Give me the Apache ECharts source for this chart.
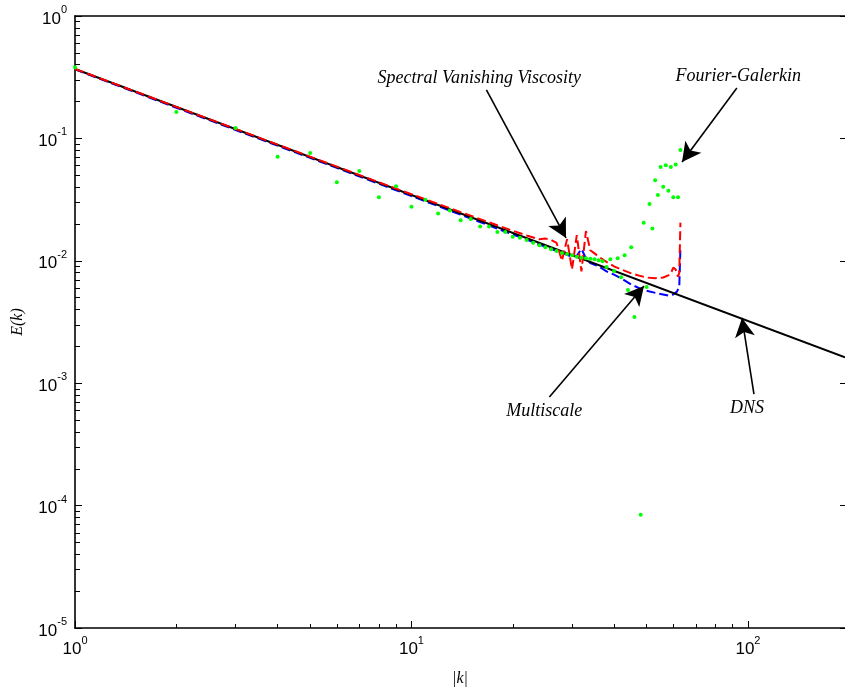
<!DOCTYPE html>
<html>
<head>
<meta charset="utf-8">
<script src="https://cdn.jsdelivr.net/npm/echarts@6/dist/echarts.min.js"></script>
<style>
  html, body { margin: 0; padding: 0; background: #ffffff; }
  #chart { width: 845px; height: 693px; }
</style>
</head>
<body>
<div id="chart"></div>
<script>
// Axis ranges
const kRange = [1, 194.3];
const eRange = [1e-5, 1];

// Tick positions
const xMajorTicks = [1, 10, 100];
const xMinorTicks = [2, 3, 4, 5, 6, 7, 8, 9, 20, 30, 40, 50, 60, 70, 80, 90];
const yMajorTicks = [1e-5, 1e-4, 1e-3, 1e-2, 1e-1, 1];
const yMinorMantissas = [2, 3, 4, 5, 6, 7, 8, 9];

// Energy spectra E(k)
const dnsSpectrum = [[1, 0.369], [194.3, 0.00163]];

const svvSpectrum = [
  [1, 0.369], [2, 0.181], [4, 0.0890], [6, 0.0588], [8, 0.0438], [10, 0.0350],
  [12, 0.0291], [14, 0.0250], [16, 0.0219], [18, 0.0195], [20, 0.0176], [22, 0.0161],
  [24, 0.0150], [25, 0.0152], [26, 0.0148], [27, 0.0140], [28, 0.0100], [29, 0.0150],
  [30, 0.0085], [31, 0.0162], [32, 0.0082], [33, 0.0175], [34, 0.0122], [35, 0.0115],
  [36, 0.0108], [38, 0.0098], [40, 0.0090], [42, 0.0085], [45, 0.0079], [48, 0.0075],
  [50, 0.0073], [53, 0.0072], [56, 0.0073], [58, 0.0076], [59, 0.0079], [60, 0.0088],
  [61, 0.0085], [62, 0.0074], [62.5, 0.0080], [63, 0.0205]
];

const multiscaleSpectrum = [
  [1, 0.366], [2, 0.178], [4, 0.0872], [6, 0.0574], [8, 0.0426], [10, 0.0338],
  [12, 0.0280], [14, 0.0238], [16, 0.0207], [18, 0.0183], [20, 0.0164], [22, 0.0149],
  [24, 0.0136], [26, 0.0125], [28, 0.0116], [30, 0.0108], [31, 0.0110], [32, 0.0125],
  [33, 0.0105], [34, 0.0096], [36, 0.0090], [38, 0.0082], [40, 0.0077], [42, 0.0072],
  [45, 0.0064], [48, 0.0059], [50, 0.0057], [54, 0.0054], [58, 0.0052], [60, 0.0053],
  [61.5, 0.0056], [62.5, 0.0061], [63, 0.0128]
];

const galerkinK = [
  1, 2, 3, 4, 5, 6, 7, 8, 9, 10, 11, 12, 13, 14, 15, 16, 17, 18, 19, 20, 21,
  22, 23, 24, 25, 26, 27, 28, 29, 30, 31, 32, 33, 34, 35, 36, 37, 38, 39, 40, 41, 42,
  43, 44, 45, 46, 48, 49, 50, 51, 52, 53, 54, 55, 56, 57, 58, 59, 60, 61, 62, 63
];
const galerkinE = [
  0.381, 0.164, 0.1216, 0.0709, 0.076, 0.0438, 0.0542, 0.033, 0.0406, 0.0277, 0.0316,
  0.0243, 0.0258, 0.0214, 0.022, 0.0191, 0.0191, 0.0172, 0.0172, 0.0157, 0.01545,
  0.01479, 0.01406, 0.01337, 0.0129, 0.0124, 0.0120, 0.0116, 0.01137, 0.0111, 0.0108,
  0.0106, 0.01047, 0.0104, 0.01028, 0.0101, 0.0099, 0.0089, 0.0103, 0.00826, 0.0105,
  0.00733, 0.0111, 0.00577, 0.0129, 0.00347, 0.000084, 0.0205, 0.0061, 0.0291, 0.0184,
  0.0455, 0.0345, 0.0584, 0.0403, 0.0603, 0.0374, 0.0585, 0.033, 0.0612, 0.033, 0.0804
];

// Annotation texts and arrows (data coordinates)
const annotationTexts = [
  { text: 'Spectral Vanishing Viscosity', at: [15.9, 0.311] },
  { text: 'Fourier-Galerkin', at: [93.6, 0.3235] },
  { text: 'Multiscale', at: [24.8, 0.000593] },
  { text: 'DNS', at: [99.3, 0.000627] }
];
const annotationArrows = [
  { from: [16.7, 0.2486], to: [28.8, 0.01536] },
  { from: [92.7, 0.258], to: [63.7, 0.0641] },
  { from: [25.7, 0.000771], to: [49.1, 0.00622] },
  { from: [104.2, 0.000816], to: [96.0, 0.00341] }
];

const yMinorTicks = [];
yMajorTicks.slice(0, -1).forEach(d => yMinorMantissas.forEach(m => yMinorTicks.push(+(m * d).toPrecision(3))));

const sansFont = 'Liberation Sans';
const serifFont = 'Liberation Serif';

const powerLabel = v => {
  const e = Math.round(Math.log10(v));
  return '{b|10}{s|' + e + '}';
};
const powerRich = {
  b: { fontFamily: sansFont, fontSize: 17, color: '#000', padding: [6, 0, 0, 0], verticalAlign: 'bottom' },
  s: { fontFamily: sansFont, fontSize: 11, color: '#000', verticalAlign: 'top' }
};

const axisLine = { show: true, lineStyle: { color: '#000', width: 1.6 } };

const chart = echarts.init(document.getElementById('chart'), null, { renderer: 'canvas' });

chart.setOption({
  animation: false,
  backgroundColor: '#ffffff',
  grid: { left: 75, right: -2, top: 16, bottom: 65, containLabel: false },
  xAxis: [
    {
      type: 'log', logBase: 10, min: kRange[0], max: kRange[1], position: 'bottom',
      axisLine,
      axisTick: { inside: true, length: 7, lineStyle: { color: '#000', width: 1 }, customValues: xMajorTicks },
      axisLabel: { formatter: powerLabel, rich: powerRich, margin: 7, customValues: xMajorTicks },
      splitLine: { show: false },
      name: '|k|', nameLocation: 'middle', nameGap: 43,
      nameTextStyle: { fontFamily: serifFont, fontStyle: 'italic', fontSize: 16, color: '#000' }
    },
    {
      type: 'log', logBase: 10, min: kRange[0], max: kRange[1], position: 'bottom',
      axisLine: { show: false },
      axisTick: { inside: true, length: 4, lineStyle: { color: '#000', width: 1 }, customValues: xMinorTicks },
      axisLabel: { show: false },
      splitLine: { show: false }
    },
    {
      type: 'log', logBase: 10, min: kRange[0], max: kRange[1], position: 'top',
      axisLine,
      axisTick: { show: false },
      axisLabel: { show: false },
      splitLine: { show: false }
    }
  ],
  yAxis: [
    {
      type: 'log', logBase: 10, min: eRange[0], max: eRange[1], position: 'left',
      axisLine,
      axisTick: { inside: true, length: 7, lineStyle: { color: '#000', width: 1 }, customValues: yMajorTicks },
      axisLabel: { formatter: powerLabel, rich: powerRich, margin: 8, customValues: yMajorTicks },
      splitLine: { show: false },
      name: 'E(k)', nameLocation: 'middle', nameGap: 49, nameRotate: 90,
      nameTextStyle: { fontFamily: serifFont, fontStyle: 'italic', fontSize: 16, color: '#000' }
    },
    {
      type: 'log', logBase: 10, min: eRange[0], max: eRange[1], position: 'left',
      axisLine: { show: false },
      axisTick: { inside: true, length: 5, lineStyle: { color: '#000', width: 1 }, customValues: yMinorTicks },
      axisLabel: { show: false },
      splitLine: { show: false }
    },
    {
      type: 'log', logBase: 10, min: eRange[0], max: eRange[1], position: 'right',
      axisLine: { show: false },
      axisTick: { inside: true, length: 5, lineStyle: { color: '#000', width: 1 }, customValues: yMajorTicks },
      axisLabel: { show: false },
      splitLine: { show: false }
    }
  ],
  series: [
    {
      name: 'Multiscale', type: 'line', data: multiscaleSpectrum, showSymbol: false, z: 2,
      lineStyle: { color: '#0000ff', width: 2, type: [9, 4] }
    },
    {
      name: 'DNS', type: 'line', data: dnsSpectrum, showSymbol: false, z: 3,
      lineStyle: { color: '#000000', width: 2 }
    },
    {
      name: 'Spectral Vanishing Viscosity', type: 'line', data: svvSpectrum, showSymbol: false, z: 4,
      lineStyle: { color: '#ff0000', width: 2, type: [9, 4] }
    },
    {
      name: 'Fourier-Galerkin', type: 'scatter', z: 5,
      data: galerkinK.map((k, i) => [k, galerkinE[i]]),
      symbol: 'circle', symbolSize: 4, itemStyle: { color: '#00ff00', opacity: 1 }
    },
    {
      name: 'annotations', type: 'line', data: [], z: 6,
      markLine: {
        silent: true, animation: false,
        symbol: ['none', 'arrow'], symbolSize: [15, 19],
        lineStyle: { color: '#000', width: 1.6, type: 'solid' },
        label: { show: false },
        data: annotationArrows.map(a => [{ coord: a.from }, { coord: a.to }])
      },
      markPoint: {
        silent: true, animation: false,
        symbol: 'circle', symbolSize: 1, itemStyle: { color: 'rgba(0,0,0,0)' },
        label: {
          show: true, position: 'inside', color: '#000',
          fontFamily: serifFont, fontStyle: 'italic', fontSize: 18
        },
        data: annotationTexts.map(t => ({ coord: t.at, value: t.text, label: { formatter: t.text } }))
      }
    }
  ]
});
</script>
</body>
</html>
